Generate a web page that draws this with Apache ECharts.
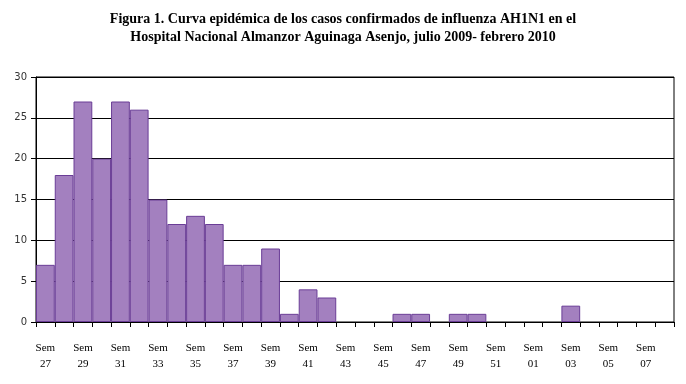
<!DOCTYPE html>
<html>
<head>
<meta charset="utf-8">
<script src="https://cdn.jsdelivr.net/npm/echarts@6/dist/echarts.min.js"></script>
<style>
html,body{margin:0;padding:0;background:#fff;}
#chart{width:686px;height:384px;}
</style>
</head>
<body>
<div id="chart"></div>
<script>
var weeks = ['27','28','29','30','31','32','33','34','35','36','37','38','39','40','41','42','43','44','45','46','47','48','49','50','51','52','01','02','03','04','05','06','07','08'];
var cases = [7,18,27,20,27,26,15,12,13,12,7,7,9,1,4,3,0,0,0,1,1,0,1,1,0,0,0,0,2,0,0,0,0,0];
var yTicks = [0,5,10,15,20,25,30];
var titleText = 'Figura 1. Curva epidémica de los casos confirmados de influenza AH1N1 en el\nHospital Nacional Almanzor Aguinaga Asenjo, julio 2009- febrero 2010';

var chart = echarts.init(document.getElementById('chart'), null, {renderer:'canvas'});
chart.setOption({
  animation: false,
  backgroundColor: '#fff',
  title: {
    text: titleText,
    left: 'center',
    top: 5,
    textStyle: {
      fontFamily: 'Liberation Serif, Times New Roman, serif',
      fontWeight: 'bold',
      fontSize: 14,
      lineHeight: 18,
      color: '#000'
    }
  },
  grid: {
    left: 36, right: 12, top: 77, bottom: 62,
    show: true, borderColor: '#000', borderWidth: 1
  },
  xAxis: {
    type: 'category',
    data: weeks.map(function(w){ return 'Sem\n' + w; }),
    axisLine: {lineStyle: {color: '#000', width: 1}},
    axisTick: {show: true, interval: 0, length: 5, lineStyle: {color: '#000'}},
    axisLabel: {
      interval: 1,
      margin: 18,
      fontFamily: 'Liberation Serif, Times New Roman, serif',
      fontSize: 11,
      lineHeight: 16,
      color: '#000'
    }
  },
  yAxis: {
    type: 'value',
    min: yTicks[0], max: yTicks[yTicks.length-1], interval: 5,
    axisLine: {show: true, lineStyle: {color: '#000'}},
    axisTick: {show: true, length: 5, lineStyle: {color: '#000'}},
    splitLine: {show: true, lineStyle: {color: '#000', width: 1}},
    axisLabel: {
      margin: 9,
      fontFamily: 'DejaVu Sans, Verdana, sans-serif',
      fontSize: 10,
      color: '#333'
    }
  },
  series: [{
    type: 'bar',
    data: cases.map(function(v){ return v === 0 ? '-' : v; }),
    barCategoryGap: '0%',
    itemStyle: {color: '#A380BF', borderColor: '#6A3D96', borderWidth: 1}
  }]
});
</script>
</body>
</html>
